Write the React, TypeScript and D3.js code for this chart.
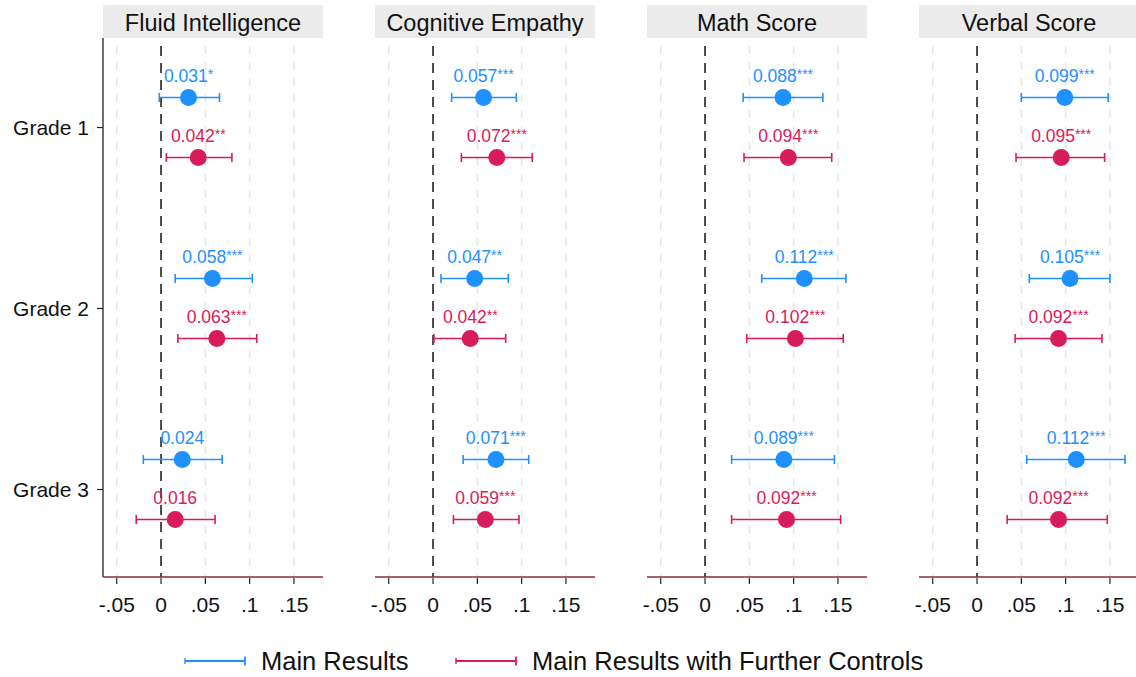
import React, { useRef, useEffect } from 'react';
import * as d3 from 'd3';

// outcomes (panels) and grades
const panels = ['Fluid Intelligence', 'Cognitive Empathy', 'Math Score', 'Verbal Score'];
const grades = ['Grade 1', 'Grade 2', 'Grade 3'];
const xTicks = [-0.05, 0, 0.05, 0.1, 0.15];
const xTickLabels = ['-.05', '0', '.05', '.1', '.15'];

// main results: estimate, CI bounds and stars per panel per grade
const mainEst = [
  [0.031, 0.058, 0.024],
  [0.057, 0.047, 0.071],
  [0.088, 0.112, 0.089],
  [0.099, 0.105, 0.112],
];
const mainLo = [
  [-0.002, 0.016, -0.02],
  [0.021, 0.009, 0.034],
  [0.043, 0.064, 0.03],
  [0.05, 0.059, 0.056],
];
const mainHi = [
  [0.066, 0.103, 0.069],
  [0.094, 0.085, 0.108],
  [0.133, 0.159, 0.146],
  [0.148, 0.15, 0.167],
];
const mainStars = [
  ['*', '***', ''],
  ['***', '**', '***'],
  ['***', '***', '***'],
  ['***', '***', '***'],
];

// with further controls
const ctrlEst = [
  [0.042, 0.063, 0.016],
  [0.072, 0.042, 0.059],
  [0.094, 0.102, 0.092],
  [0.095, 0.092, 0.092],
];
const ctrlLo = [
  [0.006, 0.019, -0.028],
  [0.032, 0.001, 0.023],
  [0.044, 0.047, 0.03],
  [0.044, 0.043, 0.034],
];
const ctrlHi = [
  [0.08, 0.108, 0.061],
  [0.112, 0.082, 0.097],
  [0.143, 0.156, 0.153],
  [0.144, 0.141, 0.147],
];
const ctrlStars = [
  ['**', '***', ''],
  ['***', '**', '***'],
  ['***', '***', '***'],
  ['***', '***', '***'],
];

const BLUE = '#1e90ff';
const RED = '#d81b5a';
const FONT = '"Liberation Sans", Arial, sans-serif';

const App = () => {
  const svgRef = useRef<SVGSVGElement>(null);
  const width = 1136;
  const height = 677;

  useEffect(() => {
    const svg = d3.select(svgRef.current);
    svg.selectAll('*').remove();

    const panelLeft0 = 103;
    const panelStep = 272;
    const panelW = 220;
    const top = 38;
    const bottom = 577;

    const y = d3.scaleLinear().domain([0.5, 3.5]).range([top - 1, bottom + 3]);
    const offset = 30;

    const series = [
      { est: mainEst, lo: mainLo, hi: mainHi, stars: mainStars, color: BLUE, dy: -offset },
      { est: ctrlEst, lo: ctrlLo, hi: ctrlHi, stars: ctrlStars, color: RED, dy: offset },
    ];

    panels.forEach((name, p) => {
      const left = panelLeft0 + p * panelStep;
      const x = d3.scaleLinear().domain([-0.0655, 0.1828]).range([left, left + panelW]);
      const g = svg.append('g');

      // strip header
      g.append('rect')
        .attr('x', left).attr('y', 5)
        .attr('width', panelW).attr('height', top - 5)
        .attr('fill', '#ebebeb');
      g.append('text')
        .attr('x', left + panelW / 2).attr('y', 31)
        .attr('text-anchor', 'middle')
        .style('font-family', FONT).style('font-size', '23.5px')
        .attr('fill', '#111')
        .text(name);

      // dashed grid
      xTicks.forEach(t => {
        if (t === 0) return;
        g.append('line')
          .attr('x1', x(t)).attr('x2', x(t))
          .attr('y1', top + 8).attr('y2', bottom)
          .attr('stroke', '#e6e6e6').attr('stroke-width', 1.5)
          .attr('stroke-dasharray', '8,8');
      });
      g.append('line')
        .attr('x1', x(0)).attr('x2', x(0))
        .attr('y1', top + 8).attr('y2', bottom)
        .attr('stroke', '#111').attr('stroke-width', 1.5)
        .attr('stroke-dasharray', '10,7');

      // y axis only on first panel
      if (p === 0) {
        g.append('line')
          .attr('x1', left).attr('x2', left)
          .attr('y1', top).attr('y2', bottom)
          .attr('stroke', '#222').attr('stroke-width', 1.3);
        grades.forEach((gr, i) => {
          const yy = y(i + 1);
          g.append('line')
            .attr('x1', left - 6).attr('x2', left)
            .attr('y1', yy).attr('y2', yy)
            .attr('stroke', '#222').attr('stroke-width', 1.2);
          g.append('text')
            .attr('x', left - 14).attr('y', yy + 7)
            .attr('text-anchor', 'end')
            .style('font-family', FONT).style('font-size', '21px')
            .attr('fill', '#111')
            .text(gr);
        });
      }

      // bottom axis
      const axis = g.append('g').attr('transform', `translate(0,${bottom})`);
      axis.append('line')
        .attr('x1', left).attr('x2', left + panelW)
        .attr('stroke', '#8b2e2e').attr('stroke-width', 1.5);
      xTicks.forEach((t, i) => {
        axis.append('line')
          .attr('x1', x(t)).attr('x2', x(t))
          .attr('y1', 1).attr('y2', 7)
          .attr('stroke', '#222').attr('stroke-width', 1.2);
        axis.append('text')
          .attr('x', x(t)).attr('y', 35)
          .attr('text-anchor', 'middle')
          .style('font-family', FONT).style('font-size', '21px')
          .attr('fill', '#111')
          .text(xTickLabels[i]);
      });

      // estimates
      series.forEach(s => {
        grades.forEach((_, i) => {
          const yy = y(i + 1) + s.dy;
          const lo = x(s.lo[p][i]);
          const hi = x(s.hi[p][i]);
          g.append('line')
            .attr('x1', lo).attr('x2', hi)
            .attr('y1', yy).attr('y2', yy)
            .attr('stroke', s.color).attr('stroke-width', 1.6);
          [lo, hi].forEach(cx => {
            g.append('line')
              .attr('x1', cx).attr('x2', cx)
              .attr('y1', yy - 4.5).attr('y2', yy + 4.5)
              .attr('stroke', s.color).attr('stroke-width', 1.6);
          });
          const cx = x(s.est[p][i]);
          g.append('circle')
            .attr('cx', cx).attr('cy', yy).attr('r', 8.5)
            .attr('fill', s.color);
          const label = g.append('text')
            .attr('x', cx).attr('y', yy - 16)
            .attr('text-anchor', 'middle')
            .style('font-family', FONT).style('font-size', '17.5px')
            .attr('fill', s.color);
          label.append('tspan').text(s.est[p][i].toFixed(3));
          if (s.stars[p][i]) {
            label.append('tspan')
              .attr('dy', -3)
              .style('font-size', '14px')
              .text(s.stars[p][i]);
          }
        });
      });
    });

    // legend
    const legend = svg.append('g').attr('transform', 'translate(0,661)');
    const items = [
      { label: 'Main Results', color: BLUE, x: 185 },
      { label: 'Main Results with Further Controls', color: RED, x: 456 },
    ];
    items.forEach(it => {
      legend.append('line')
        .attr('x1', it.x).attr('x2', it.x + 60)
        .attr('stroke', it.color).attr('stroke-width', 1.8);
      legend.append('line')
        .attr('x1', it.x + 60).attr('x2', it.x + 60)
        .attr('y1', -4.5).attr('y2', 4.5)
        .attr('stroke', it.color).attr('stroke-width', 1.8);
      legend.append('line')
        .attr('x1', it.x).attr('x2', it.x)
        .attr('y1', -3).attr('y2', 3)
        .attr('stroke', it.color).attr('stroke-width', 1.4);
      legend.append('text')
        .attr('x', it.x + 76).attr('y', 9)
        .style('font-family', FONT).style('font-size', '25.5px')
        .attr('fill', '#111')
        .text(it.label);
    });
  }, []);

  return (
    <svg ref={svgRef} width={width} height={height}
      style={{ position: 'absolute', left: 0, top: 0, background: '#fff' }} />
  );
};

export default App;
